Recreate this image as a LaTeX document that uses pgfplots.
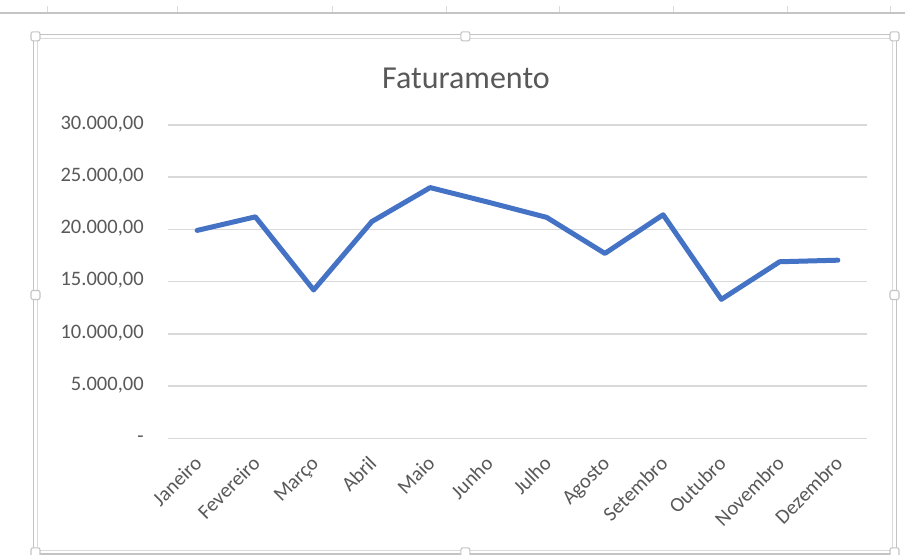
\documentclass[border=0pt]{standalone}
\usepackage{pgfplots}
\pgfplotsset{compat=1.18}
\usepackage{fontspec}
\setmainfont{Carlito}
\definecolor{txt}{HTML}{595959}
\definecolor{grd}{HTML}{D9D9D9}
\definecolor{ser}{HTML}{4472C4}
\definecolor{frm}{HTML}{C4C4C4}
\definecolor{frmin}{HTML}{DADADA}
\begin{document}
\begin{tikzpicture}
\begin{scope}[x=0.75pt,y=-0.75pt]
\path[use as bounding box] (0,0) rectangle (905,555);
\fill[white] (0,0) rectangle (905,555);
% spreadsheet ruler line
\draw[color=frm, line width=1.4pt] (0,12.6) -- (905,12.6);
\foreach \xx in {47,177,332,446,559,673,787,890}
  \draw[color=frmin, line width=0.7pt] (\xx,6.5) -- (\xx,12);
% chart selection frame
\draw[color=frm, line width=0.8pt] (33.5,34.3) rectangle (896.7,554);
\draw[color=frmin, line width=0.8pt] (37.5,38.3) rectangle (892.3,550.5);
\foreach \hx/\hy in {35.5/36.3, 465.4/36.3, 894.5/36.3, 35.5/295, 894.5/295, 35.5/552.3, 465.4/552.3, 894.5/552.3}
  \draw[color=frm, fill=white, line width=0.8pt, rounded corners=1.5pt] (\hx-4.5,\hy-4.5) rectangle (\hx+4.5,\hy+4.5);
% title
\node[anchor=base, text=txt, font=\fontsize{24}{28}\selectfont, inner sep=0pt] at (466,88.3) {Faturamento};
\end{scope}
\begin{axis}[
  at={(126pt,-328.7pt)}, anchor=south west,
  scale only axis, width=524.25pt, height=235pt,
  xmin=-0.5, xmax=11.5, ymin=0, ymax=30000,
  scaled y ticks=false,
  xtick={0,1,2,3,4,5,6,7,8,9,10,11},
  xticklabels={Janeiro,Fevereiro,Março,Abril,Maio,Junho,Julho,Agosto,Setembro,Outubro,Novembro,Dezembro},
  ytick={0,5000,10000,15000,20000,25000,30000},
  yticklabels={{-\hspace{6.5pt}},{5.000,00},{10.000,00},{15.000,00},{20.000,00},{25.000,00},{30.000,00}},
  ymajorgrids,
  major grid style={color=grd, line width=1.1pt},
  axis line style={draw=none},
  major tick length=0pt,
  tick style={draw=none},
  tick label style={font=\fontsize{15.4}{18}\selectfont, text=txt},
  yticklabel style={xshift=-18pt, yshift=-0.316em, anchor=base east, inner sep=0pt},
  xticklabel style={xshift=4.5pt, yshift=-19.8pt, rotate=45, anchor=base east, inner sep=0pt},
  clip=false,
]
\addplot[color=ser, line width=3.75pt, line cap=round, line join=round, mark=none] coordinates {
(0,19900) (1,21200) (2,14200) (3,20750) (4,24000) (5,22600)
(6,21150) (7,17700) (8,21400) (9,13300) (10,16900) (11,17050)
};
\end{axis}
\end{tikzpicture}
\end{document}
